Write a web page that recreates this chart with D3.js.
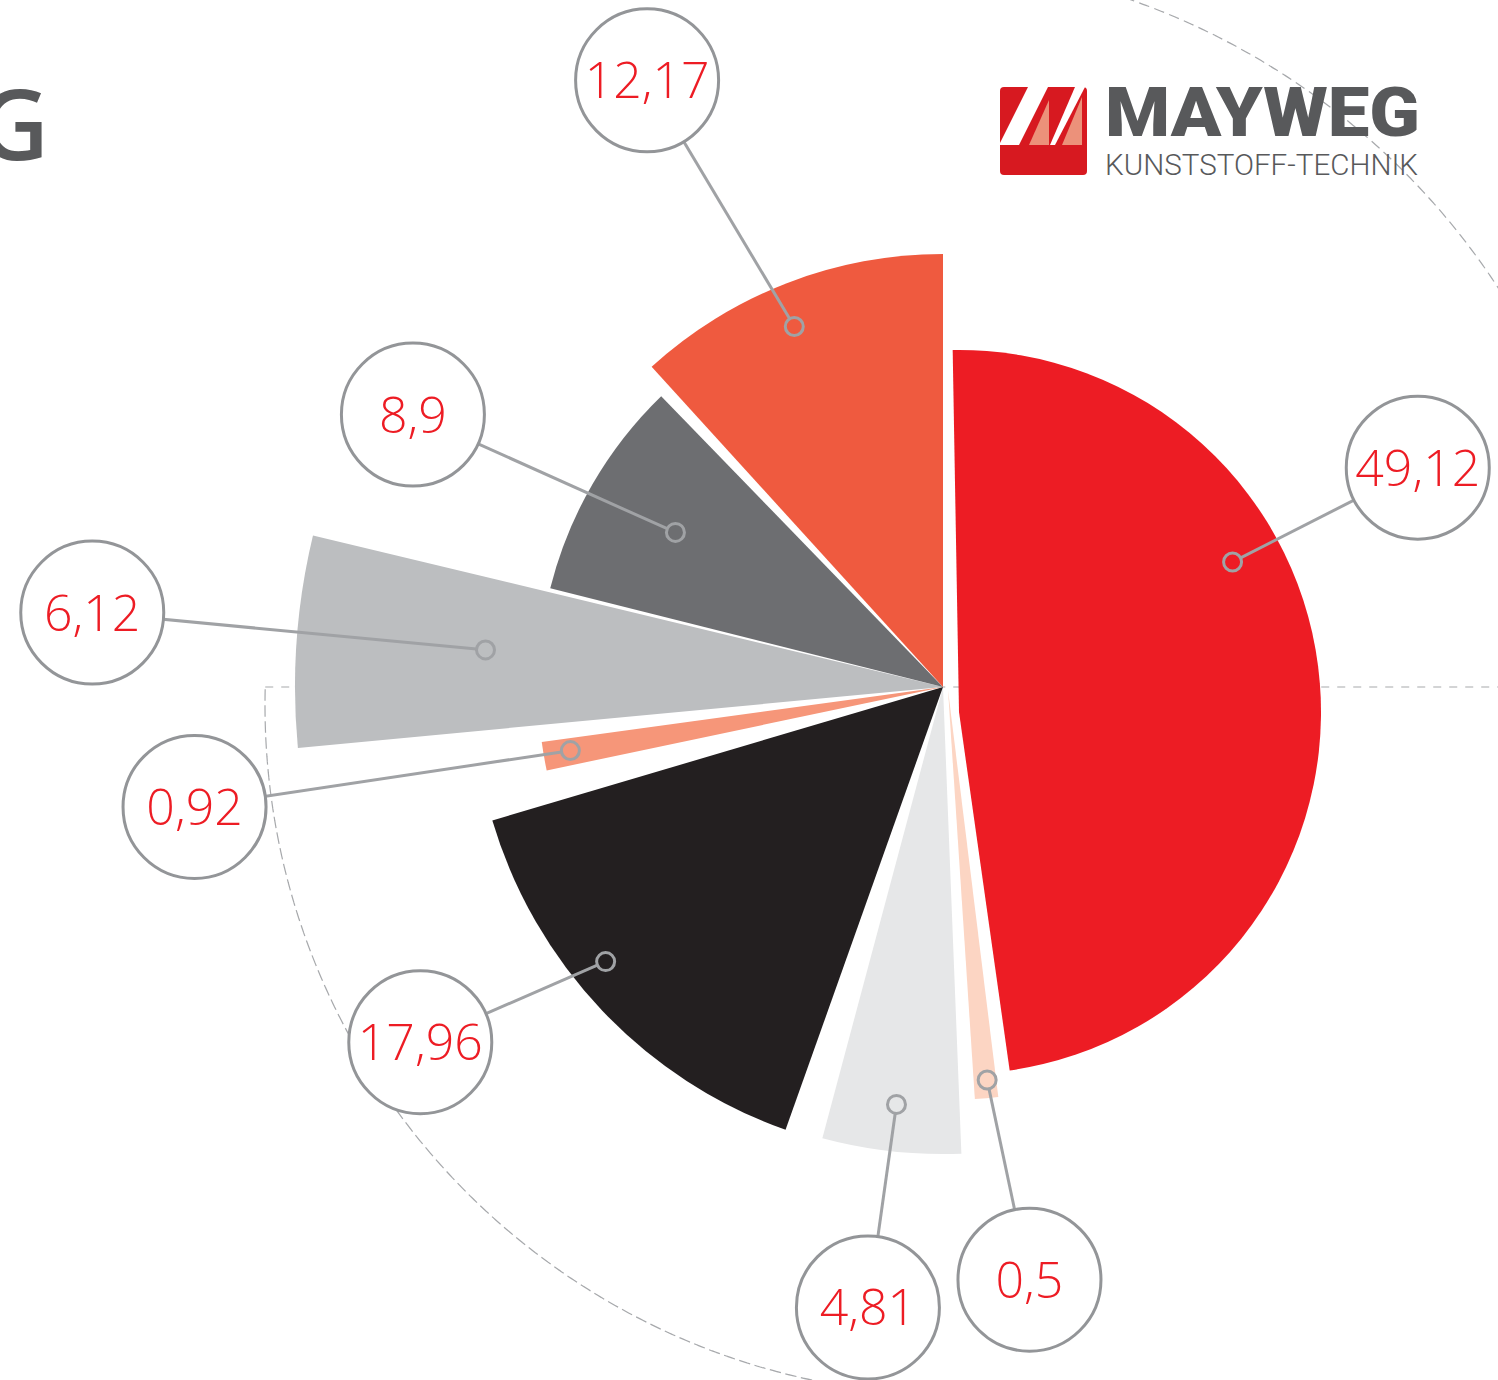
<!DOCTYPE html>
<html>
<head>
<meta charset="utf-8">
<script src="https://cdn.jsdelivr.net/npm/d3@7/dist/d3.min.js"></script>
<style>
  body { margin: 0; background: #fff; }
  svg { display: block; }
</style>
</head>
<body>
<script>
// shares in percent, clockwise from 12 o'clock
const values = [49.12, 0.5, 4.81, 17.96, 0.92, 6.12, 8.9, 12.17]
const colors = ['#ED1C24', '#FCD5C3', '#E6E7E8', '#231F20', '#F69679', '#BCBEC0', '#6D6E71', '#EF5A3F']

// look of each slice (not data): radius, shift of the tip, angle tweaks in degrees
const sliceRadius = [362, 410, 467, 470, 405, 648, 405, 433]
const sliceShift = [[16, 25], [5, 3], [0, 0], [0, 0], [0, 0], [0, 0], [0, 0], [0, 0]]
const angleTweak = [[-1, -4], [-3, -1.5], [0, 0], [4.6, -5.8], [-1.2, -0.4], [2, -1], [-0.4, -0.5], [1.3, 0]]
// marker dot: fraction of the slice angle, distance from the tip
const dotPlace = [[0.36, 312], [0.4, 392], [0.5, 420], [0.58, 435], [0.54, 378], [0.53, 459], [0.5, 309], [0.47, 390]]
// label bubble: angle in degrees, distance from the centre
const labelPlace = [[65.2, 523], [171.7, 599], [186.9, 625], [235.8, 632], [260.9, 758], [275, 854], [297.2, 596], [334, 675]]

const width = 1498
const height = 1380
const cx = 943
const cy = 687
const rad = Math.PI / 180

const fmt = d3.formatLocale({ decimal: ',', thousands: '.', grouping: [3], currency: ['', ''] }).format('~g')

const svg = d3.select('body').append('svg')
  .attr('width', width)
  .attr('height', height)

function polar (x0, y0, a, r) {
  return [x0 + r * Math.sin(a), y0 - r * Math.cos(a)]
}

/* ------- dashed guides ------- */
const guide = svg.append('g')
  .attr('fill', 'none')
  .attr('stroke', '#A7A9AC')
  .attr('stroke-width', 1.2)
  .attr('stroke-dasharray', '8 8')

// lower left quarter, starts where it meets the horizontal guide
const blCenter = [cx + 12, cy + 18]
const blR = 690
const blStart = 2 * Math.PI - Math.acos((blCenter[1] - cy) / blR)
guide.append('path')
  .attr('transform', `translate(${blCenter})`)
  .attr('d', d3.arc().innerRadius(blR).outerRadius(blR).startAngle(Math.PI).endAngle(blStart)())
const leftX = polar(blCenter[0], blCenter[1], blStart, blR)[0]

// upper right quarter
const trCenter = [cx - 52, cy - 3]
const trR = 725
guide.append('path')
  .attr('transform', `translate(${trCenter})`)
  .attr('d', d3.arc().innerRadius(trR).outerRadius(trR).startAngle(0).endAngle(Math.PI / 2)())

guide.append('line')
  .attr('x1', leftX).attr('x2', width)
  .attr('y1', cy).attr('y2', cy)

/* ------- slices ------- */
const pie = d3.pie().sort(null).value(d => d)
const arcs = pie(values).map((d, i) => {
  const s = d.startAngle + angleTweak[i][0] * rad
  const e = d.endAngle + angleTweak[i][1] * rad
  return {
    value: d.value,
    start: s,
    end: e,
    r: sliceRadius[i],
    x: cx + sliceShift[i][0],
    y: cy + sliceShift[i][1],
    color: colors[i]
  }
})

const arc = d3.arc().innerRadius(0)

svg.append('g').attr('class', 'slices')
  .selectAll('path')
  .data(arcs)
  .join('path')
  .attr('transform', d => `translate(${d.x},${d.y})`)
  .attr('d', d => arc({ startAngle: d.start, endAngle: d.end, outerRadius: d.r }))
  .attr('fill', d => d.color)

/* ------- labels ------- */
const dotR = 9
const bubbleR = 71.5
const labels = arcs.map((d, i) => {
  const a = d.start + (d.end - d.start) * dotPlace[i][0]
  const dot = polar(d.x, d.y, a, dotPlace[i][1])
  const bubble = polar(cx, cy, labelPlace[i][0] * rad, labelPlace[i][1])
  const ang = Math.atan2(bubble[1] - dot[1], bubble[0] - dot[0])
  return {
    text: fmt(d.value),
    dot: dot,
    bubble: bubble,
    from: [dot[0] + dotR * Math.cos(ang), dot[1] + dotR * Math.sin(ang)]
  }
})

const lab = svg.append('g').attr('class', 'labels')

lab.selectAll('line')
  .data(labels)
  .join('line')
  .attr('x1', d => d.from[0]).attr('y1', d => d.from[1])
  .attr('x2', d => d.bubble[0]).attr('y2', d => d.bubble[1])
  .attr('stroke', '#A0A2A5')
  .attr('stroke-width', 3)

lab.selectAll('circle.dot')
  .data(labels)
  .join('circle')
  .attr('class', 'dot')
  .attr('cx', d => d.dot[0]).attr('cy', d => d.dot[1])
  .attr('r', dotR)
  .attr('fill', 'none')
  .attr('stroke', '#A0A2A5')
  .attr('stroke-width', 3)

lab.selectAll('circle.bubble')
  .data(labels)
  .join('circle')
  .attr('class', 'bubble')
  .attr('cx', d => d.bubble[0]).attr('cy', d => d.bubble[1])
  .attr('r', bubbleR)
  .attr('fill', '#fff')
  .attr('stroke', '#939598')
  .attr('stroke-width', 3)

lab.selectAll('text')
  .data(labels)
  .join('text')
  .attr('x', d => d.bubble[0]).attr('y', d => d.bubble[1])
  .attr('dy', '0.36em')
  .attr('text-anchor', 'middle')
  .attr('font-family', '"Open Sans", sans-serif')
  .attr('font-weight', 300)
  .attr('font-size', 50)
  .attr('fill', '#ED1C24')
  .text(d => d.text)

/* ------- title fragment and logo ------- */
svg.append('text')
  .attr('x', -22).attr('y', 160)
  .attr('font-family', '"Open Sans", sans-serif')
  .attr('font-weight', 600)
  .attr('font-size', 98)
  .attr('fill', '#58595B')
  .text('G')

const logo = svg.append('g').attr('transform', 'translate(1000,87)')
logo.append('rect')
  .attr('width', 87).attr('height', 88).attr('rx', 4)
  .attr('fill', '#D71920')
const shapes = [
  { pts: [[28, 0], [48, 0], [19, 58], [0, 58], [0, 56]], fill: '#fff' },
  { pts: [[29, 58], [49, 13], [49, 58]], fill: '#EC917A' },
  { pts: [[75, 0], [85, 0], [55, 58], [50, 58]], fill: '#fff' },
  { pts: [[62, 58], [82, 10], [82, 58]], fill: '#EC917A' }
]
logo.selectAll('polygon')
  .data(shapes)
  .join('polygon')
  .attr('points', d => d.pts.join(' '))
  .attr('fill', d => d.fill)

svg.append('text')
  .attr('x', 1105).attr('y', 136)
  .attr('font-family', 'Roboto, sans-serif')
  .attr('font-weight', 900)
  .attr('font-size', 68)
  .attr('textLength', 315)
  .attr('lengthAdjust', 'spacingAndGlyphs')
  .attr('fill', '#58595B')
  .text('MAYWEG')

svg.append('text')
  .attr('x', 1105).attr('y', 175)
  .attr('font-family', 'Roboto, sans-serif')
  .attr('font-weight', 300)
  .attr('font-size', 30)
  .attr('textLength', 313)
  .attr('lengthAdjust', 'spacingAndGlyphs')
  .attr('fill', '#58595B')
  .text('KUNSTSTOFF-TECHNIK')
</script>
</body>
</html>
